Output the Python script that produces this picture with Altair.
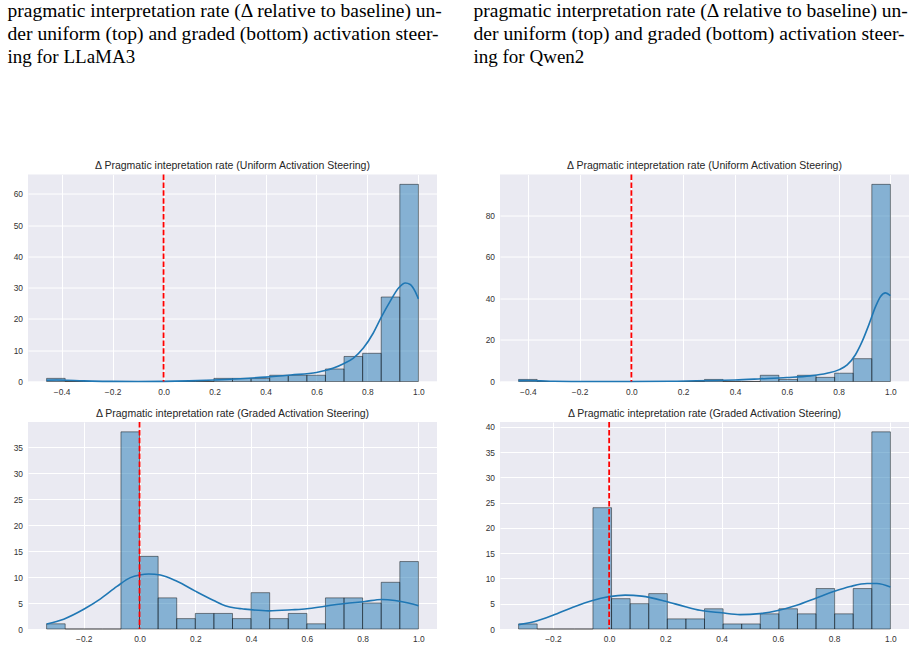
import altair as alt
import numpy as np
import pandas as pd

# ---------------- captions / titles ----------------
CAP_LEFT = [
    "pragmatic interpretation rate (\u0394 relative to baseline) un-",
    "der uniform (top) and graded (bottom) activation steer-",
    "ing for LLaMA3",
]
CAP_RIGHT = [
    "pragmatic interpretation rate (\u0394 relative to baseline) un-",
    "der uniform (top) and graded (bottom) activation steer-",
    "ing for Qwen2",
]
CAP_SIZES = [19.5, 19.6, 19.0]
TITLE_UNIFORM = "\u0394 Pragmatic intepretation rate (Uniform Activation Steering)"
TITLE_GRADED = "\u0394 Pragmatic intepretation rate (Graded Activation Steering)"

# ---------------- histogram data (20 bins, min .. 1.0) ----------------
tl_min = -0.459
tl_counts = [1, 0, 0, 0, 0, 0, 0, 0, 0, 1, 1, 1, 2, 2, 2, 4, 8, 9, 27, 63]
tr_min = -0.4355
tr_counts = [1, 0, 0, 0, 0, 0, 0, 0, 0, 0, 1, 0, 0, 3, 1, 3, 2, 4, 11, 95]
bl_min = -0.3333
bl_counts = [1, 0, 0, 0, 38, 14, 6, 2, 3, 3, 2, 7, 2, 3, 1, 6, 6, 5, 9, 13]
br_min = -0.322
br_counts = [1, 0, 0, 0, 24, 6, 5, 7, 2, 2, 4, 1, 1, 3, 4, 3, 8, 3, 8, 39]

# ---------------- KDE curves ----------------
tl_kde_x = [-0.459, -0.42, -0.38, -0.33, -0.28, -0.2, -0.1, 0.0, 0.1, 0.2, 0.3, 0.4, 0.5,
            0.6, 0.667, 0.706, 0.745, 0.784, 0.823, 0.856, 0.889, 0.922, 0.949, 0.968, 0.987, 1.0]
tl_kde_y = [0.42, 0.46, 0.4, 0.25, 0.12, 0.03, 0.02, 0.05, 0.2, 0.5, 0.9, 1.4, 2.1,
            2.9, 4.3, 5.7, 7.5, 10.7, 15.5, 20.8, 25.6, 29.9, 31.5, 31.0, 28.8, 26.4]

tr_kde_x = [-0.4355, -0.40, -0.35, -0.3, -0.2, 0.0, 0.15, 0.25, 0.32, 0.4, 0.5, 0.6, 0.69,
            0.755, 0.8, 0.833, 0.865, 0.891, 0.917, 0.943, 0.962, 0.981, 1.0]
tr_kde_y = [0.4, 0.45, 0.3, 0.12, 0.02, 0.02, 0.1, 0.35, 0.5, 0.75, 1.3, 1.9, 2.7,
            4.0, 5.6, 8.0, 12.9, 19.3, 27.4, 36.2, 41.0, 42.7, 41.4]

bl_kde_x = [-0.333, -0.272, -0.2, -0.14, -0.081, -0.033, 0.0, 0.033, 0.075, 0.134, 0.2, 0.266,
            0.307, 0.343, 0.367, 0.463, 0.546, 0.6, 0.665, 0.737, 0.808, 0.868, 0.916, 0.964, 1.0]
bl_kde_y = [0.96, 1.9, 3.8, 5.8, 8.2, 9.9, 10.4, 10.6, 10.4, 9.2, 7.3, 5.5,
            4.5, 4.05, 3.9, 3.5, 3.7, 3.9, 4.4, 4.9, 5.3, 5.7, 5.5, 5.0, 4.5]

br_kde_x = [-0.322, -0.264, -0.2, -0.133, -0.062, 0.0, 0.057, 0.116, 0.2, 0.271, 0.323, 0.4,
            0.465, 0.536, 0.6, 0.667, 0.739, 0.798, 0.857, 0.917, 0.952, 1.0]
br_kde_y = [0.86, 1.5, 2.7, 4.2, 5.6, 6.4, 6.7, 6.5, 5.5, 4.4, 3.7, 3.2,
            2.85, 3.05, 3.65, 4.7, 6.2, 7.4, 8.4, 9.0, 9.0, 8.3]

# ---------------- tick values ----------------
x_ticks_top = [-0.4, -0.2, 0.0, 0.2, 0.4, 0.6, 0.8, 1.0]
x_ticks_bottom = [-0.2, 0.0, 0.2, 0.4, 0.6, 0.8, 1.0]
tl_yticks = [0, 10, 20, 30, 40, 50, 60]
tr_yticks = [0, 20, 40, 60, 80]
bl_yticks = [0, 5, 10, 15, 20, 25, 30, 35]
br_yticks = [0, 5, 10, 15, 20, 25, 30, 35, 40]

PANEL_W = 409
PANEL_H = 207
BG = "#EAEAF2"
C0 = "#1f77b4"


def panel(lo, counts, kx, ky, xticks, yticks, title):
    n = len(counts)
    edges = np.linspace(lo, 1.0, n + 1)
    bars = pd.DataFrame({"x0": edges[:-1], "x1": edges[1:], "count": counts})
    kde = pd.DataFrame({"x": kx, "y": ky})
    rng = 1.0 - lo
    xs = alt.Scale(domain=[lo - 0.05 * rng, 1.0 + 0.05 * rng], nice=False, zero=False)
    ys = alt.Scale(domain=[0, 1.05 * max(counts)], nice=False, zero=False)
    xax = alt.Axis(values=xticks, format=".1f", title=None)
    yax = alt.Axis(values=yticks, format="d", title=None)

    b = alt.Chart(bars).mark_rect(
        fill=C0, fillOpacity=0.5, stroke="black", strokeOpacity=0.45, strokeWidth=1
    ).encode(
        x=alt.X("x0:Q", scale=xs, axis=xax),
        x2="x1:Q",
        y=alt.Y("count:Q", scale=ys, axis=yax),
        y2=alt.datum(0),
    )
    k = alt.Chart(kde).mark_line(color=C0, strokeWidth=1.6, interpolate="monotone").encode(
        x=alt.X("x:Q", scale=xs, axis=xax),
        y=alt.Y("y:Q", scale=ys, axis=yax),
    )
    r = alt.Chart(pd.DataFrame({"v": [0.0]})).mark_rule(
        color="#ff0000", strokeWidth=1.8, strokeDash=[5.5, 2.4]
    ).encode(x=alt.X("v:Q", scale=xs, axis=xax))
    return alt.layer(b, k, r).properties(
        width=PANEL_W,
        height=PANEL_H,
        title=alt.TitleParams(title),
        view=alt.ViewBackground(fill=BG, strokeWidth=0),
    )


def caption(lines, dx):
    layers = []
    for i, line in enumerate(lines):
        layers.append(
            alt.Chart(pd.DataFrame({"t": [line]})).mark_text(
                align="left", baseline="alphabetic", font="Liberation Serif",
                fontSize=CAP_SIZES[i], color="black"
            ).encode(x=alt.value(dx), y=alt.value(17 + 23 * i), text="t:N")
        )
    return alt.layer(*layers).properties(
        width=PANEL_W, height=134, view=alt.ViewBackground(fill="white", strokeWidth=0)
    )


tl = panel(tl_min, tl_counts, tl_kde_x, tl_kde_y, x_ticks_top, tl_yticks, TITLE_UNIFORM)
tr = panel(tr_min, tr_counts, tr_kde_x, tr_kde_y, x_ticks_top, tr_yticks, TITLE_UNIFORM)
bl = panel(bl_min, bl_counts, bl_kde_x, bl_kde_y, x_ticks_bottom, bl_yticks, TITLE_GRADED)
br = panel(br_min, br_counts, br_kde_x, br_kde_y, x_ticks_bottom, br_yticks, TITLE_GRADED)

chart = (
    alt.concat(
        caption(CAP_LEFT, -20.5), caption(CAP_RIGHT, -26.5),
        tl, tr, bl, br,
        columns=2, bounds="flush", spacing={"row": 40.5, "column": 63},
    )
    .resolve_scale(x="independent", y="independent")
    .properties(padding={"left": 7, "top": 0, "right": 0, "bottom": 0}, background="white")
    .configure_view(strokeWidth=0)
    .configure_axis(
        grid=True, gridColor="white", gridWidth=1, gridOpacity=1,
        domain=False, ticks=False,
        labelFont="Liberation Sans", labelFontSize=8.4, labelColor="#333333",
        labelPadding=5.5, labelFlush=False, labelOverlap=False,
    )
    .configure_title(
        font="Liberation Sans", fontSize=10.5, fontWeight="normal",
        color="#262626", offset=2, anchor="middle",
    )
)

chart.save("out.html", embed_options={"renderer": "svg", "actions": False})
